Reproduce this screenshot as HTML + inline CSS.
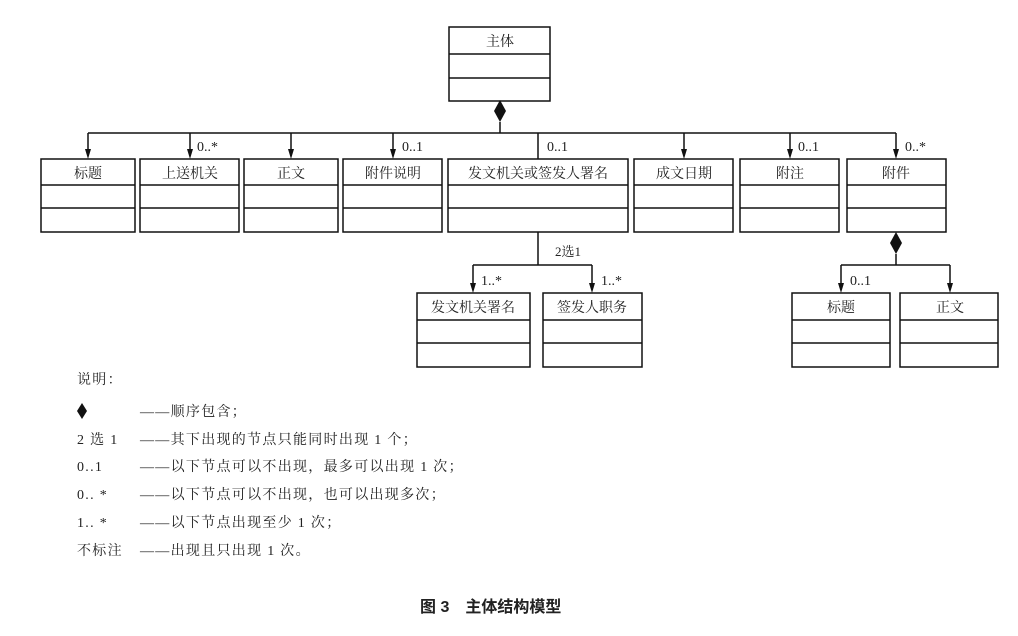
<!DOCTYPE html>
<html><head><meta charset="utf-8"><style>
body{margin:0;background:#fff;}
svg text{font-family:"Liberation Serif","Noto Serif CJK SC","Noto Sans CJK SC",serif;fill:#222;}
</style></head><body>
<svg width="1018" height="631" viewBox="0 0 1018 631" xmlns="http://www.w3.org/2000/svg">
<g stroke="#111" stroke-width="1.5" fill="none">
<rect x="449" y="27" width="101" height="74"/>
<line x1="449" y1="54" x2="550" y2="54"/><line x1="449" y1="78" x2="550" y2="78"/>
<line x1="500" y1="122" x2="500" y2="133"/>
<line x1="88" y1="133" x2="896" y2="133"/>
<line x1="88" y1="133" x2="88" y2="152"/>
<line x1="190" y1="133" x2="190" y2="152"/>
<line x1="291" y1="133" x2="291" y2="152"/>
<line x1="393" y1="133" x2="393" y2="152"/>
<line x1="538" y1="133" x2="538" y2="159"/>
<line x1="684" y1="133" x2="684" y2="152"/>
<line x1="790" y1="133" x2="790" y2="152"/>
<line x1="896" y1="133" x2="896" y2="152"/>
<rect x="41" y="159" width="94" height="73"/><line x1="41" y1="185" x2="135" y2="185"/><line x1="41" y1="208" x2="135" y2="208"/>
<rect x="140" y="159" width="99" height="73"/><line x1="140" y1="185" x2="239" y2="185"/><line x1="140" y1="208" x2="239" y2="208"/>
<rect x="244" y="159" width="94" height="73"/><line x1="244" y1="185" x2="338" y2="185"/><line x1="244" y1="208" x2="338" y2="208"/>
<rect x="343" y="159" width="99" height="73"/><line x1="343" y1="185" x2="442" y2="185"/><line x1="343" y1="208" x2="442" y2="208"/>
<rect x="448" y="159" width="180" height="73"/><line x1="448" y1="185" x2="628" y2="185"/><line x1="448" y1="208" x2="628" y2="208"/>
<rect x="634" y="159" width="99" height="73"/><line x1="634" y1="185" x2="733" y2="185"/><line x1="634" y1="208" x2="733" y2="208"/>
<rect x="740" y="159" width="99" height="73"/><line x1="740" y1="185" x2="839" y2="185"/><line x1="740" y1="208" x2="839" y2="208"/>
<rect x="847" y="159" width="99" height="73"/><line x1="847" y1="185" x2="946" y2="185"/><line x1="847" y1="208" x2="946" y2="208"/>
<line x1="538" y1="232" x2="538" y2="265"/>
<line x1="473" y1="265" x2="592" y2="265"/>
<line x1="473" y1="265" x2="473" y2="286"/>
<line x1="592" y1="265" x2="592" y2="286"/>
<rect x="417" y="293" width="113" height="74"/><line x1="417" y1="320" x2="530" y2="320"/><line x1="417" y1="343" x2="530" y2="343"/>
<rect x="543" y="293" width="99" height="74"/><line x1="543" y1="320" x2="642" y2="320"/><line x1="543" y1="343" x2="642" y2="343"/>
<line x1="896" y1="254" x2="896" y2="265"/>
<line x1="841" y1="265" x2="950" y2="265"/>
<line x1="841" y1="265" x2="841" y2="286"/>
<line x1="950" y1="265" x2="950" y2="286"/>
<rect x="792" y="293" width="98" height="74"/><line x1="792" y1="320" x2="890" y2="320"/><line x1="792" y1="343" x2="890" y2="343"/>
<rect x="900" y="293" width="98" height="74"/><line x1="900" y1="320" x2="998" y2="320"/><line x1="900" y1="343" x2="998" y2="343"/>
</g>
<g fill="#111">
<path d="M85,149 L91,149 L88,159 Z"/>
<path d="M187,149 L193,149 L190,159 Z"/>
<path d="M288,149 L294,149 L291,159 Z"/>
<path d="M390,149 L396,149 L393,159 Z"/>
<path d="M681,149 L687,149 L684,159 Z"/>
<path d="M787,149 L793,149 L790,159 Z"/>
<path d="M893,149 L899,149 L896,159 Z"/>
<path d="M470,283 L476,283 L473,293 Z"/>
<path d="M589,283 L595,283 L592,293 Z"/>
<path d="M838,283 L844,283 L841,293 Z"/>
<path d="M947,283 L953,283 L950,293 Z"/>
<path d="M500,100 L506,111 L500,122 L494,111 Z"/>
<path d="M896,232 L902,243 L896,254 L890,243 Z"/>
</g>
<g font-size="14" text-anchor="middle">
<text x="500" y="46">主体</text>
<text x="88" y="178">标题</text>
<text x="190" y="178">上送机关</text>
<text x="291" y="178">正文</text>
<text x="393" y="178">附件说明</text>
<text x="538" y="178">发文机关或签发人署名</text>
<text x="684" y="178">成文日期</text>
<text x="790" y="178">附注</text>
<text x="896" y="178">附件</text>
<text x="473" y="312">发文机关署名</text>
<text x="592" y="312">签发人职务</text>
<text x="841" y="312">标题</text>
<text x="950" y="312">正文</text>
</g>
<g font-size="14" style="font-family:'Liberation Mono',monospace">
<text x="197" y="151">0..*</text>
<text x="402" y="151">0..1</text>
<text x="547" y="151">0..1</text>
<text x="798" y="151">0..1</text>
<text x="905" y="151">0..*</text>
<text x="481" y="285">1..*</text>
<text x="601" y="285">1..*</text>
<text x="850" y="285">0..1</text>
</g>
<text x="555" y="256" font-size="13">2选1</text>
<g font-size="14" letter-spacing="1.3">
<text x="77" y="384">说明：</text>
<path d="M82,403 L87,411 L82,419 L77,411 Z" fill="#111"/>
<text x="140" y="416">——顺序包含；</text>
<text x="77" y="444">2 选 1</text><text x="140" y="444">——其下出现的节点只能同时出现 1 个；</text>
<text x="77" y="471">0..1</text><text x="140" y="471">——以下节点可以不出现，最多可以出现 1 次；</text>
<text x="77" y="499">0.. *</text><text x="140" y="499">——以下节点可以不出现，也可以出现多次；</text>
<text x="77" y="527">1.. *</text><text x="140" y="527">——以下节点出现至少 1 次；</text>
<text x="77" y="555">不标注</text><text x="140" y="555">——出现且只出现 1 次。</text>
</g>
<text x="420" y="612" font-size="16" font-weight="bold" style="font-family:'Liberation Sans','Noto Sans CJK SC',sans-serif">图 3　主体结构模型</text>
</svg>
</body></html>
